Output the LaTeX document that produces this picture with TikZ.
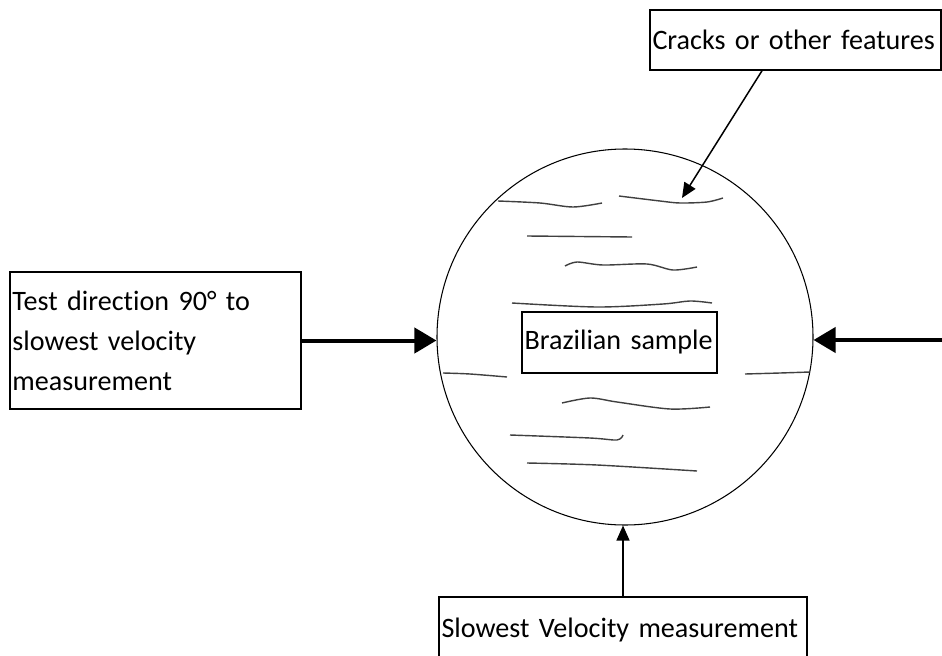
\documentclass[tikz,border=0pt]{standalone}
\usepackage{fontspec}
\setmainfont[Ligatures=NoCommon]{Carlito}
\usetikzlibrary{arrows.meta,positioning}

\begin{document}
\begin{tikzpicture}[x=0.2mm,y=-0.2mm,font=\fontsize{16}{22.8}\selectfont,
 label box/.style={draw,line width=0.3mm,inner xsep=0.5mm,inner ysep=0pt,align=left},
 crack/.style={line width=0.8pt,black!75},
 heavy/.style={line width=0.8mm,-{Triangle[length=4.4mm,width=5mm]}},
 light/.style={line width=0.3mm,-{Triangle[length=3mm,width=2.6mm]}}]
\useasboundingbox (0,0) rectangle (942,656);
\node[draw,circle,minimum size=75.2mm,inner sep=0pt,line width=0.6pt] (disc) at (625,337) {};
\node[label box,text width=38mm,minimum height=12.2mm] (bsample) at (619.5,342.5) {Brazilian sample};
\node[label box,text width=57.2mm,minimum height=27.4mm] (testdir) at (155.5,340.5)
 {Test direction 90° to\\slowest velocity\\measurement};
\node[label box,text width=57.2mm,minimum height=12mm] (cracks) at (795.5,40) {Cracks or other features};
\node[label box,text width=72.6mm,minimum height=13.2mm] (slowvel) at (623,630) {Slowest Velocity measurement};
\coordinate (rightend) at (942,340);
\coordinate (crackhit) at (682,198);

\draw[crack] plot[smooth] coordinates {(498,201) (540,203) (573,207) (602,203)};
\draw[crack] plot[smooth] coordinates {(619,196) (660,201) (680,203) (707,202) (723,198)};
\draw[crack] plot[smooth] coordinates {(527,236) (632,237)};
\draw[crack] plot[smooth] coordinates {(565,266) (577,262) (603,265) (647,264) (673,270) (697,267)};
\draw[crack] plot[smooth] coordinates {(512,303) (597,307) (663,304) (690,301) (712,303)};
\draw[crack] plot[smooth] coordinates {(443,373) (470,374) (507,377)};
\draw[crack] plot[smooth] coordinates {(745,374) (780,373) (810,372)};
\draw[crack] plot[smooth] coordinates {(562,403) (590,398) (617,402) (670,409) (710,407)};
\draw[crack] plot[smooth] coordinates {(510,435) (590,438) (617,440) (623,435)};
\draw[crack] plot[smooth] coordinates {(527,463) (597,465) (697,471)};

\draw[heavy] (testdir.east) -- (testdir.east -| disc.west);
\draw[heavy] (rightend) -- (rightend -| disc.east);
\draw[light] ([xshift=-6.7mm]cracks.south) -- (crackhit);
\draw[light] (slowvel.north) -- (slowvel.north |- disc.south);
\end{tikzpicture}
\end{document}
